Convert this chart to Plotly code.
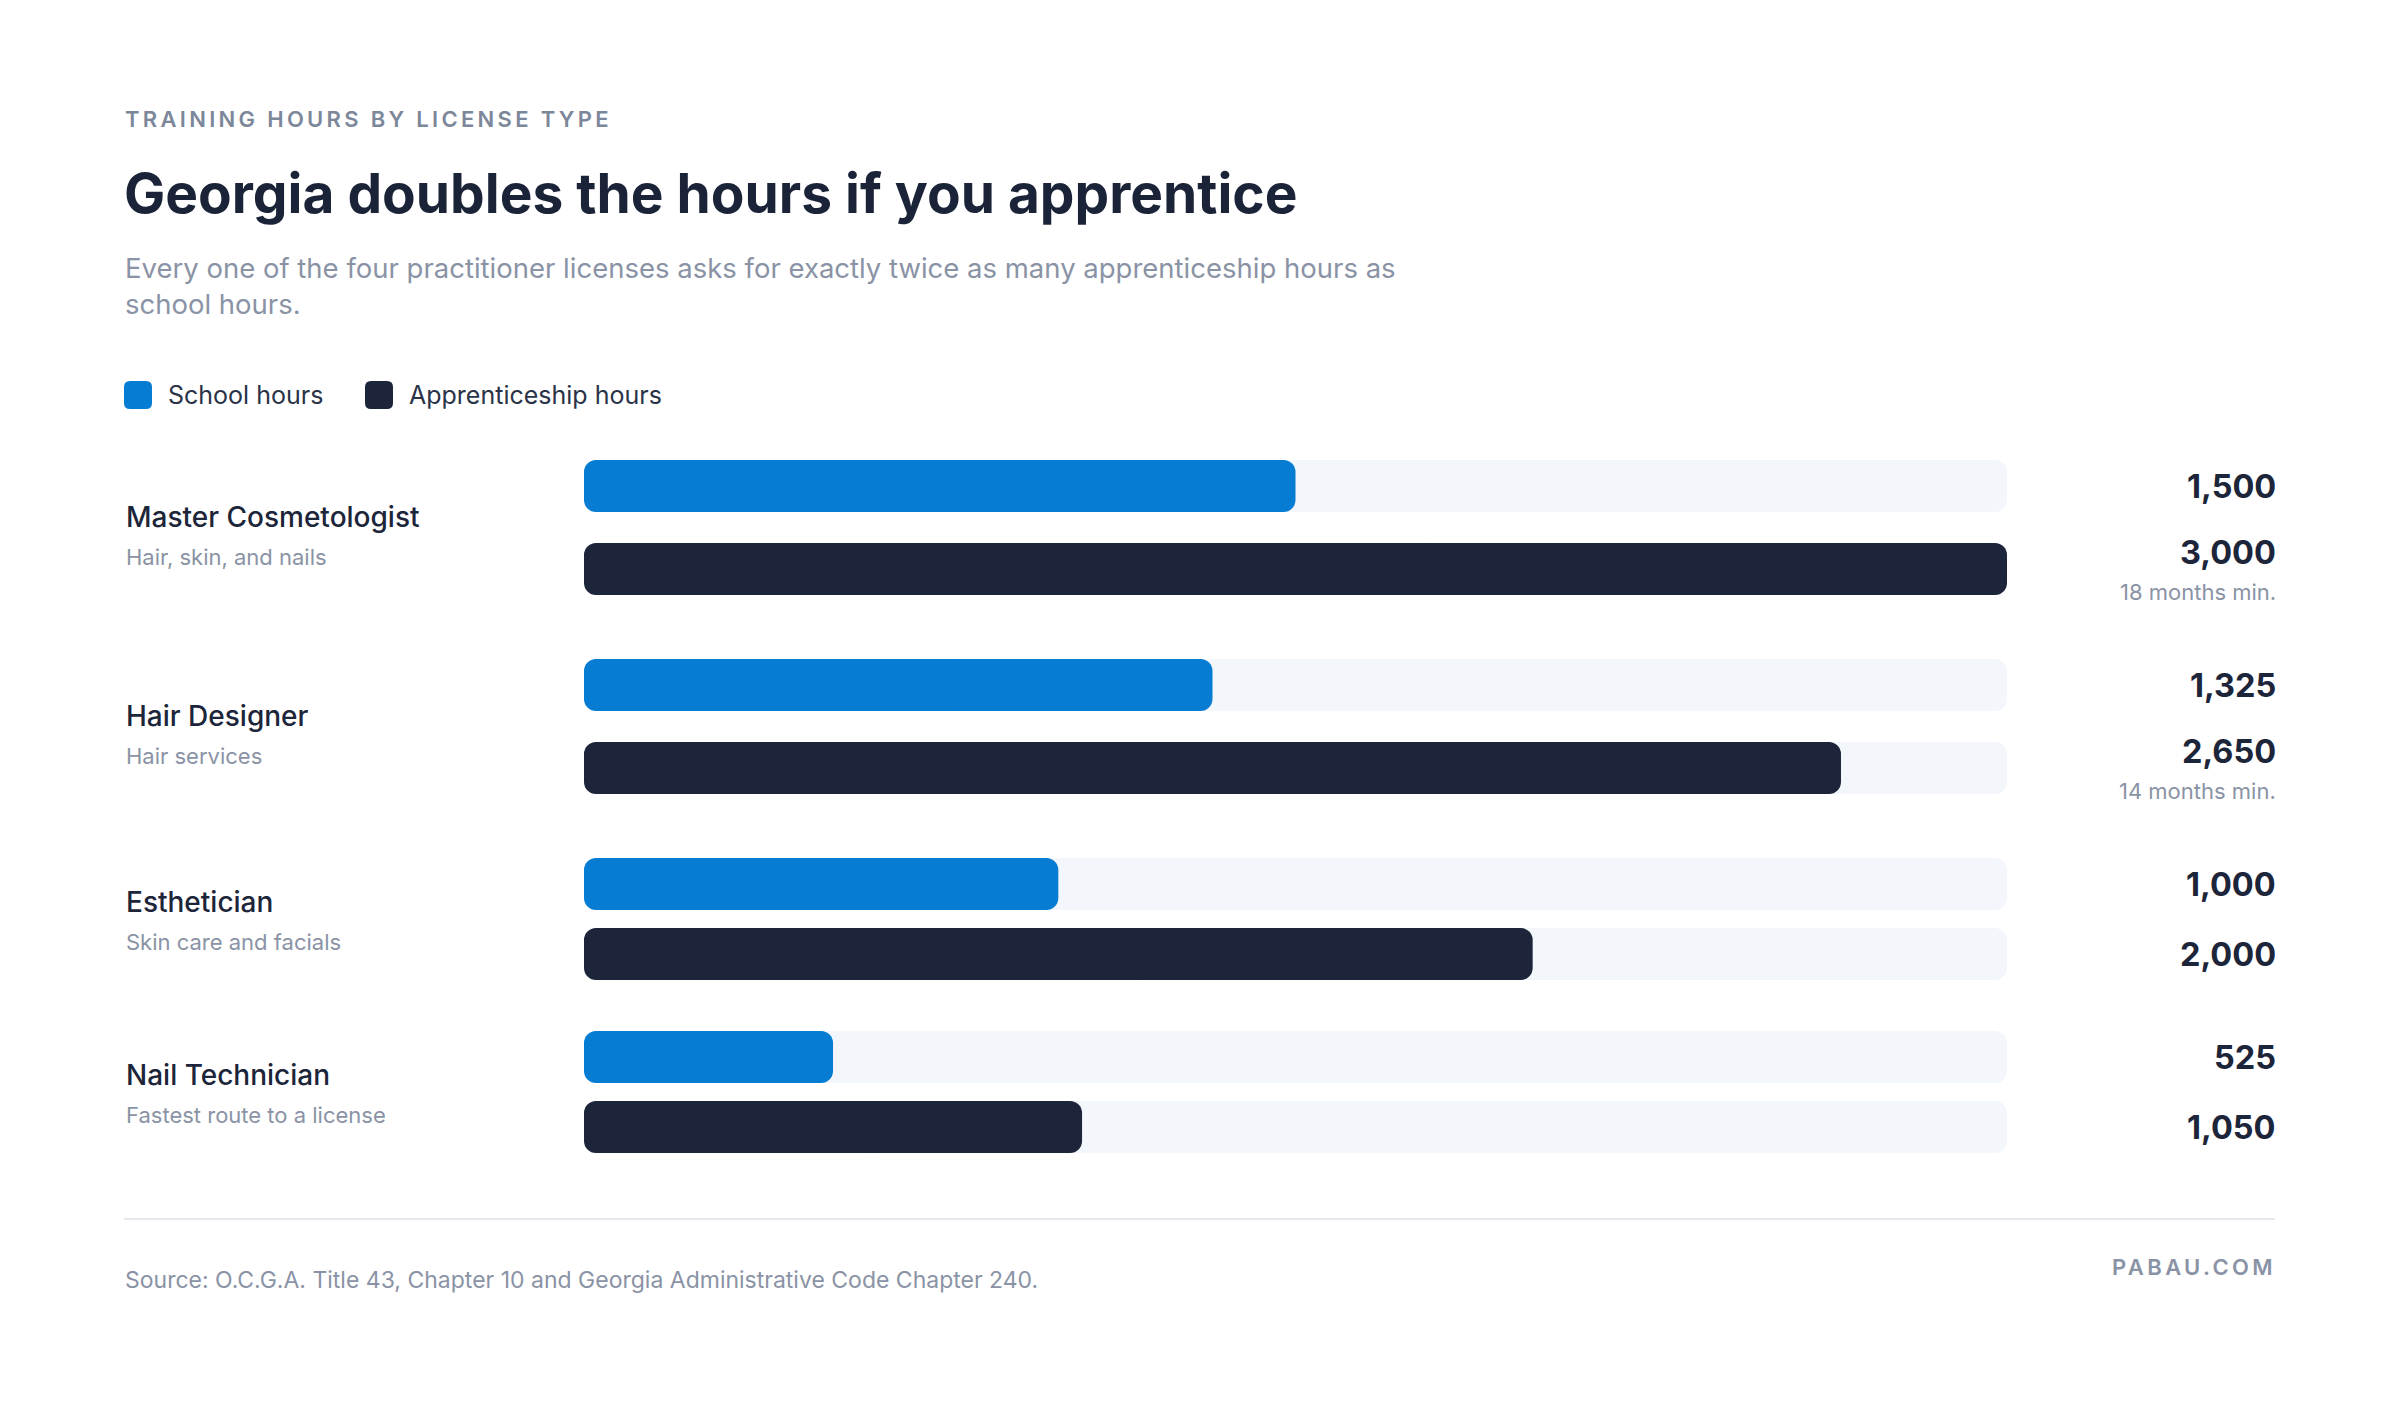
import plotly.graph_objects as go

W, H = 2400, 1414

# --- Data ---
licenses = ["Master Cosmetologist", "Hair Designer", "Esthetician", "Nail Technician"]
descriptions = ["Hair, skin, and nails", "Hair services", "Skin care and facials", "Fastest route to a license"]
school_hours = [1500, 1325, 1000, 525]
apprentice_hours = [3000, 2650, 2000, 1050]
apprentice_notes = ["18 months min.", "14 months min.", "", ""]
series_names = ["School hours", "Apprenticeship hours"]

eyebrow = "TRAINING HOURS BY LICENSE TYPE"
title = "Georgia doubles the hours if you apprentice"
subtitle = ("Every one of the four practitioner licenses asks for exactly twice as many apprenticeship hours as"
            "<br>school hours.")
source = "Source: O.C.G.A. Title 43, Chapter 10 and Georgia Administrative Code Chapter 240."
brand = "PABAU.COM"

# --- Colours and fonts ---
BLUE = "#067DD3"
NAVY = "#1C2539"
TRACK = "#F3F7FB"
GREY = "#8A93A5"
RULE = "#E6E9EF"
FONT = "Inter"

# --- Layout constants (pixels) ---
LEFT, RIGHT = 124, 2275
BAR_L, BAR_R = 584, 2007
BAR_H = 52
RADIUS = 12
first_row = 486
pair_gap = 70
group_step = 173
note_extra = 13

# row centres: groups with a note under the value get a little more room
school_y, appr_y = [], []
y = first_row
for note in apprentice_notes:
    school_y.append(y)
    appr_y.append(y + pair_gap + (note_extra if note else 0))
    y += group_step + (2 * note_extra if note else 0)

track_max = max(apprentice_hours)

fig = go.Figure()


def rounded_bars(values, ys, color, name, hover=True):
    # plotly only rounds the far end of a bar, so each bar is drawn as two
    # overlapping pieces growing out from its middle: one rounds the right
    # end, the other the left end.
    common = dict(orientation="h", width=BAR_H, y=ys, name=name, showlegend=False,
                  marker=dict(color=color, cornerradius=RADIUS, line_width=0))
    if hover:
        common.update(customdata=[[lic, v] for lic, v in zip(licenses, values)],
                      hovertemplate="%{customdata[0]}<br>" + name + ": %{customdata[1]:,}<extra></extra>")
    else:
        common.update(hoverinfo="skip")
    fig.add_trace(go.Bar(base=[v * 0.4 for v in values], x=[v * 0.6 for v in values], **common))
    fig.add_trace(go.Bar(base=[v * 0.6 for v in values], x=[-v * 0.6 for v in values], **common))


# background tracks, then the two series
rounded_bars([track_max] * (len(school_y) + len(appr_y)), school_y + appr_y, TRACK, "track", hover=False)
rounded_bars(school_hours, school_y, BLUE, series_names[0])
rounded_bars(apprentice_hours, appr_y, NAVY, series_names[1])

# invisible trace so the full-width pixel axis x2 exists
fig.add_trace(go.Scatter(x=[0, W], y=[0, H], xaxis="x2", yaxis="y",
                         mode="markers", marker=dict(opacity=0), hoverinfo="skip", showlegend=False))

ann = []
shapes = []


def text(x, y, s, size, color, weight=400, anchor="left", spacing=None):
    if spacing:
        s = f'<span style="letter-spacing:{spacing}px">{s}</span>'
    ann.append(dict(x=x, y=y, xref="x2", yref="y", text=s, showarrow=False,
                    xanchor=anchor, yanchor="middle", align=anchor,
                    font=dict(family=FONT, size=size, color=color, weight=weight)))


# --- Header ---
text(LEFT - 1, 119, eyebrow, 22, "#7D879A", 600, spacing=3.3)
text(LEFT - 2, 193, title, 55, "#1A2337", 700)
text(LEFT - 1, 286, subtitle, 27.5, GREY, 400)


# --- Legend (rounded swatches) ---
def rounded_square(x0, y0, s, r, color):
    x1, y1 = x0 + s, y0 + s
    path = (f"M {x0+r},{y0} L {x1-r},{y0} Q {x1},{y0} {x1},{y0+r} L {x1},{y1-r} Q {x1},{y1} {x1-r},{y1} "
            f"L {x0+r},{y1} Q {x0},{y1} {x0},{y1-r} L {x0},{y0+r} Q {x0},{y0} {x0+r},{y0} Z")
    shapes.append(dict(type="path", path=path, xref="x2", yref="y",
                       fillcolor=color, line=dict(width=0), layer="above"))


legend_x = [LEFT, 365]
for lx, name, col in zip(legend_x, series_names, [BLUE, NAVY]):
    rounded_square(lx, 381, 28, 6, col)
    text(lx + 42, 395, name, 25, "#2A3347", 400)

# --- Row labels and values ---
VAL_X = RIGHT + 3
for i, lic in enumerate(licenses):
    has_note = bool(apprentice_notes[i])
    mid = (school_y[i] + appr_y[i]) / 2
    ly = mid - 17 + (6 if has_note else 0)
    text(LEFT, ly, lic, 28, NAVY, 500)
    text(LEFT, ly + 40, descriptions[i], 22, GREY, 400)

    text(VAL_X, school_y[i], f"{school_hours[i]:,}", 32.5, NAVY, 700, "right")
    if has_note:
        text(VAL_X, appr_y[i] - 17, f"{apprentice_hours[i]:,}", 32.5, NAVY, 700, "right")
        text(VAL_X, appr_y[i] + 23, apprentice_notes[i], 22, GREY, 400, "right")
    else:
        text(VAL_X, appr_y[i], f"{apprentice_hours[i]:,}", 32.5, NAVY, 700, "right")

# --- Footer ---
shapes.append(dict(type="line", xref="x2", yref="y", x0=LEFT, x1=RIGHT, y0=1219, y1=1219,
                   line=dict(color=RULE, width=2)))
text(LEFT - 1, 1280, source, 23, GREY, 400)
text(RIGHT + 3, 1267, brand, 22, "#8A93A5", 600, "right", spacing=3.4)

fig.update_layout(
    width=W, height=H,
    margin=dict(l=0, r=0, t=0, b=0),
    paper_bgcolor="white", plot_bgcolor="rgba(0,0,0,0)",
    barmode="overlay",
    showlegend=False,
    xaxis=dict(domain=[BAR_L / W, BAR_R / W], range=[0, track_max], visible=False, fixedrange=True),
    xaxis2=dict(domain=[0, 1], range=[0, W], visible=False, anchor="y", fixedrange=True),
    yaxis=dict(domain=[0, 1], range=[H, 0], visible=False, fixedrange=True),
    annotations=ann,
    shapes=shapes,
    font=dict(family=FONT),
)

fig.write_html("out.html", config={"displayModeBar": False},
               post_script="document.body.style.margin='0';")
